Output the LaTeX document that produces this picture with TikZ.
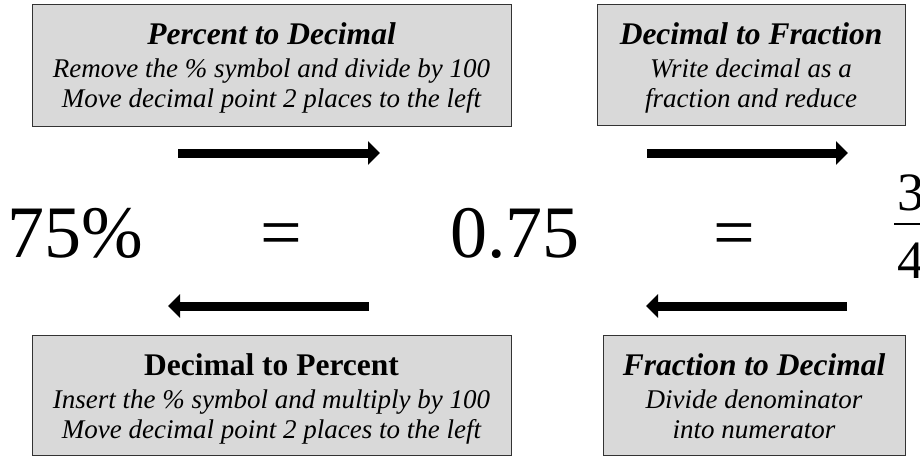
\documentclass[tikz,border=0pt]{standalone}
\usepackage{fontspec}
\setmainfont{Liberation Serif}
\usetikzlibrary{arrows.meta}
\begin{document}
\begin{tikzpicture}[x=1pt,y=-1pt,
  box/.style={draw=black!80, line width=1.2pt, fill=black!15, inner sep=0pt, anchor=north west},
  ttl/.style={anchor=base, inner sep=0pt, font=\fontsize{31.5}{34}\selectfont\bfseries\itshape},
  ttlup/.style={anchor=base, inner sep=0pt, font=\fontsize{31.5}{34}\selectfont\bfseries},
  body/.style={anchor=base, inner sep=0pt, font=\fontsize{27}{30}\selectfont\itshape},
  big/.style={anchor=base, inner sep=0pt, font=\fontsize{74}{80}\selectfont},
  fracnum/.style={anchor=base, inner sep=0pt, font=\fontsize{54}{60}\selectfont},
  bigarrow/.style={line width=9pt, -{Triangle[length=12pt,width=23pt]}}]
\useasboundingbox (0,0) rectangle (920,456);
\clip (0,0) rectangle (920,456);

% boxes
\node[box, minimum width=479pt, minimum height=122pt] (b1) at (32,4) {};
\node[box, minimum width=308pt, minimum height=121pt] (b2) at (597,4) {};
\node[box, minimum width=479pt, minimum height=120pt] (b3) at (32,335) {};
\node[box, minimum width=302pt, minimum height=120pt] (b4) at (603,335) {};

% box texts
\node[ttl]  (t1a) at (271.5,44) {Percent to Decimal};
\node[body] (t1b) at (271.5,77) {Remove the \% symbol and divide by 100};
\node[body] (t1c) at (271.5,107) {Move decimal point 2 places to the left};

\node[ttl]  (t2a) at (751,44) {Decimal to Fraction};
\node[body] (t2b) at (751,77) {Write decimal as a};
\node[body] (t2c) at (751,107) {fraction and reduce};

\node[ttlup] (t3a) at (271.5,375) {Decimal to Percent};
\node[body]  (t3b) at (271.5,408) {Insert the \% symbol and multiply by 100};
\node[body]  (t3c) at (271.5,438) {Move decimal point 2 places to the left};

\node[ttl]  (t4a) at (754,375) {Fraction to Decimal};
\node[body] (t4b) at (754,408) {Divide denominator};
\node[body] (t4c) at (754,438) {into numerator};

% main line
\node[big] (pct) at (75,257) {75\%};
\node[big] (eqa) at (281,257) {=};
\node[big] (dec) at (515,257) {0.75};
\node[big] (eqb) at (734,257) {=};
\node[fracnum] (num) at (911,210) {3};
\node[fracnum] (den) at (911,278) {4};
\draw[line width=2.5pt] (894,224) -- (932,224);

% arrows
\coordinate (a1s) at (178,153); \coordinate (a1e) at (380,153);
\coordinate (a2s) at (647,153); \coordinate (a2e) at (848,153);
\coordinate (a3s) at (369,306); \coordinate (a3e) at (168,306);
\coordinate (a4s) at (847,306); \coordinate (a4e) at (646,306);
\draw[bigarrow] (a1s) -- (a1e);
\draw[bigarrow] (a2s) -- (a2e);
\draw[bigarrow] (a3s) -- (a3e);
\draw[bigarrow] (a4s) -- (a4e);
\end{tikzpicture}
\end{document}
